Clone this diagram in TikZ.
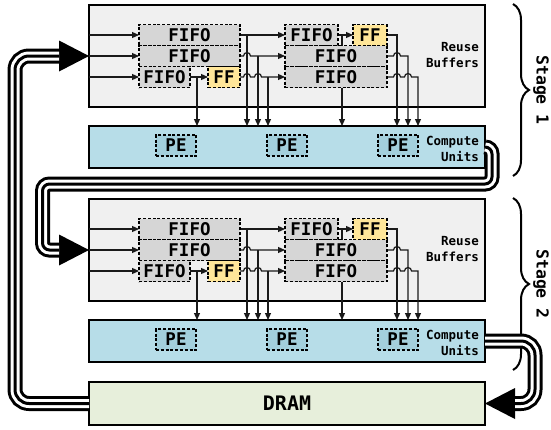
\documentclass[tikz,border=0pt]{standalone}
\usepackage{fontspec}
\setmonofont{DejaVu Sans Mono}
\usetikzlibrary{arrows.meta,decorations.pathreplacing}

\definecolor{reusefill}{HTML}{F0F0F0}
\definecolor{fifofill}{HTML}{D6D6D6}
\definecolor{fffill}{HTML}{FFE699}
\definecolor{cufill}{HTML}{B7DDE8}
\definecolor{pefill}{HTML}{A3CFDC}
\definecolor{dramfill}{HTML}{E7EFDB}
\definecolor{wirecol}{HTML}{1A1A1A}

\pgfdeclarelayer{back}
\pgfdeclarelayer{wires}
\pgfsetlayers{back,wires,main}

% triple-striped data-flow arrow
\newcommand{\drawflow}[1]{%
  \draw[line width=15pt, -{Triangle[length=30pt,width=31pt,line width=0pt]}] #1;
  \draw[line width=9pt, white, shorten >=30pt] #1;
  \draw[line width=3pt, shorten >=30pt] #1;}

\begin{document}
\begin{tikzpicture}[x=1pt,y=1pt,
  panel/.style={draw, line width=2.4pt, inner sep=0pt, outer sep=0pt,
    minimum width=396pt, anchor=north west},
  reuse/.style={panel, fill=reusefill, minimum height=102pt},
  compute/.style={panel, fill=cufill, minimum height=42pt},
  buf/.style={draw, dash pattern=on 3pt off 1.8pt, line width=1.6pt,
    fill=fifofill, inner sep=0pt, outer sep=0pt, minimum height=21pt,
    font=\fontsize{17.5}{18}\selectfont\ttfamily\bfseries},
  ffbuf/.style={buf, fill=fffill},
  pe/.style={buf, fill=pefill, minimum width=40pt},
  wire/.style={draw=wirecol, line width=1.2pt, -{Triangle[length=7pt,width=6pt]}},
  caption/.style={anchor=east, align=right, inner sep=0pt,
    font=\fontsize{12.5}{16}\selectfont\ttfamily\bfseries},
  stagebrace/.style={decorate, decoration={brace, amplitude=16pt}, line width=2pt},
  stagelabel/.style={rotate=-90, inner sep=0pt,
    font=\fontsize{16.5}{18}\selectfont\ttfamily\bfseries},
  memory/.style={draw, line width=2.4pt, fill=dramfill, inner sep=0pt,
    outer sep=0pt, minimum width=396pt, minimum height=43pt,
    font=\fontsize{20}{22}\selectfont\ttfamily\bfseries}
]
\useasboundingbox (0,0) rectangle (551,-429);

\foreach \s/\o in {1/0,2/194}{
  % stage panels
  \begin{pgfonlayer}{back}
    \node[reuse] (rb\s) at (89,{-5-\o}) {};
    \node[compute] (cu\s) at (89,{-126-\o}) {};
    \draw[stagebrace] (513,{-4-\o}) -- (513,{-176-\o});
  \end{pgfonlayer}
  \node[caption] at (479,{-55-\o}) {Reuse\\Buffers};
  \node[caption] at (479,{-149-\o}) {Compute\\Units};
  \node[stagelabel] at (541,{-90-\o}) {Stage \s};

  % first buffer group
  \node[buf, minimum width=101pt] (fa\s) at (189.5,{-35-\o}) {FIFO};
  \node[buf, minimum width=101pt] (fb\s) at (189.5,{-56-\o}) {FIFO};
  \node[buf, minimum width=51pt] (fc\s) at (164.5,{-77-\o}) {FIFO};
  \node[ffbuf, minimum width=32pt] (ff\s) at (224,{-77-\o}) {FF};
  % second buffer group
  \node[buf, minimum width=53pt] (ga\s) at (311.5,{-35-\o}) {FIFO};
  \node[ffbuf, minimum width=34pt] (gf\s) at (370,{-35-\o}) {FF};
  \node[buf, minimum width=102pt] (gb\s) at (336,{-56-\o}) {FIFO};
  \node[buf, minimum width=102pt] (gc\s) at (336,{-77-\o}) {FIFO};

  % processing elements
  \node[pe] (pea\s) at (176,{-145.5-\o}) {PE};
  \node[pe] (peb\s) at (287,{-145.5-\o}) {PE};
  \node[pe] (pec\s) at (398,{-145.5-\o}) {PE};

  % taps feeding the compute units
  \coordinate (ja\s) at (247,{-35-\o});
  \coordinate (jb\s) at (258,{-56-\o});
  \coordinate (jc\s) at (268,{-77-\o});
  \coordinate (jf\s) at (197,{-77-\o});
  \coordinate (kf\s) at (342,{-35-\o});
  \coordinate (ka\s) at (397,{-35-\o});
  \coordinate (kb\s) at (408,{-56-\o});
  \coordinate (kc\s) at (418,{-77-\o});

  \begin{pgfonlayer}{wires}
    \draw[wire] (fa\s.west -| rb\s.west) -- (fa\s.west);
    \draw[wire] (fb\s.west -| rb\s.west) -- (fb\s.west);
    \draw[wire] (fc\s.west -| rb\s.west) -- (fc\s.west);

    \draw[wire] (fa\s.east) -- (ga\s.west);
    \draw[wire] (fb\s.east) -- ++(3.5,0) arc[start angle=180,end angle=0,radius=3.5]
      -- (gb\s.west);
    \draw[wire] (ff\s.east) -- ++(3.5,0) arc[start angle=180,end angle=0,radius=3.5]
      -- ++(4,0) arc[start angle=180,end angle=0,radius=3.5] -- (gc\s.west);
    \draw[wire] (fc\s.east) -- (ff\s.west);

    \draw[wire] (ja\s) -- (ja\s |- cu\s.north);
    \draw[wire] (jb\s) -- (jb\s |- cu\s.north);
    \draw[wire] (jc\s) -- (jc\s |- cu\s.north);
    \draw[wire] (jf\s) -- (jf\s |- cu\s.north);

    \draw[wire] (ga\s.east) -- (gf\s.west);
    \draw[wire] (kf\s) -- (kf\s |- cu\s.north);
    \draw[wire] (gf\s.east) -- (ka\s) -- (ka\s |- cu\s.north);
    \draw[wire] (gb\s.east) -- ++(6.5,0) arc[start angle=180,end angle=0,radius=3.5]
      -- (kb\s) -- (kb\s |- cu\s.north);
    \draw[wire] (gc\s.east) -- ++(6.5,0) arc[start angle=180,end angle=0,radius=3.5]
      -- ++(4,0) arc[start angle=180,end angle=0,radius=3.5]
      -- (kc\s) -- (kc\s |- cu\s.north);
  \end{pgfonlayer}
}

% off-chip memory
\node[memory] (dram) at (287,-403.5) {DRAM};

% data flow between memory and stages
\drawflow{(dram.west) [rounded corners=14pt] -- (15,-403.5) -- (15,-56)
  -- (fb1.west -| rb1.west)}
\drawflow{(cu1.east) [rounded corners=7pt] -- (492,-147) -- (492,-184)
  -- (42.5,-184) -- (42.5,-250) -- (fb2.west -| rb2.west)}
\drawflow{(cu2.east) [rounded corners=14pt] -- (535,-341) -- (535,-403.5)
  -- (dram.east)}
\end{tikzpicture}
\end{document}
